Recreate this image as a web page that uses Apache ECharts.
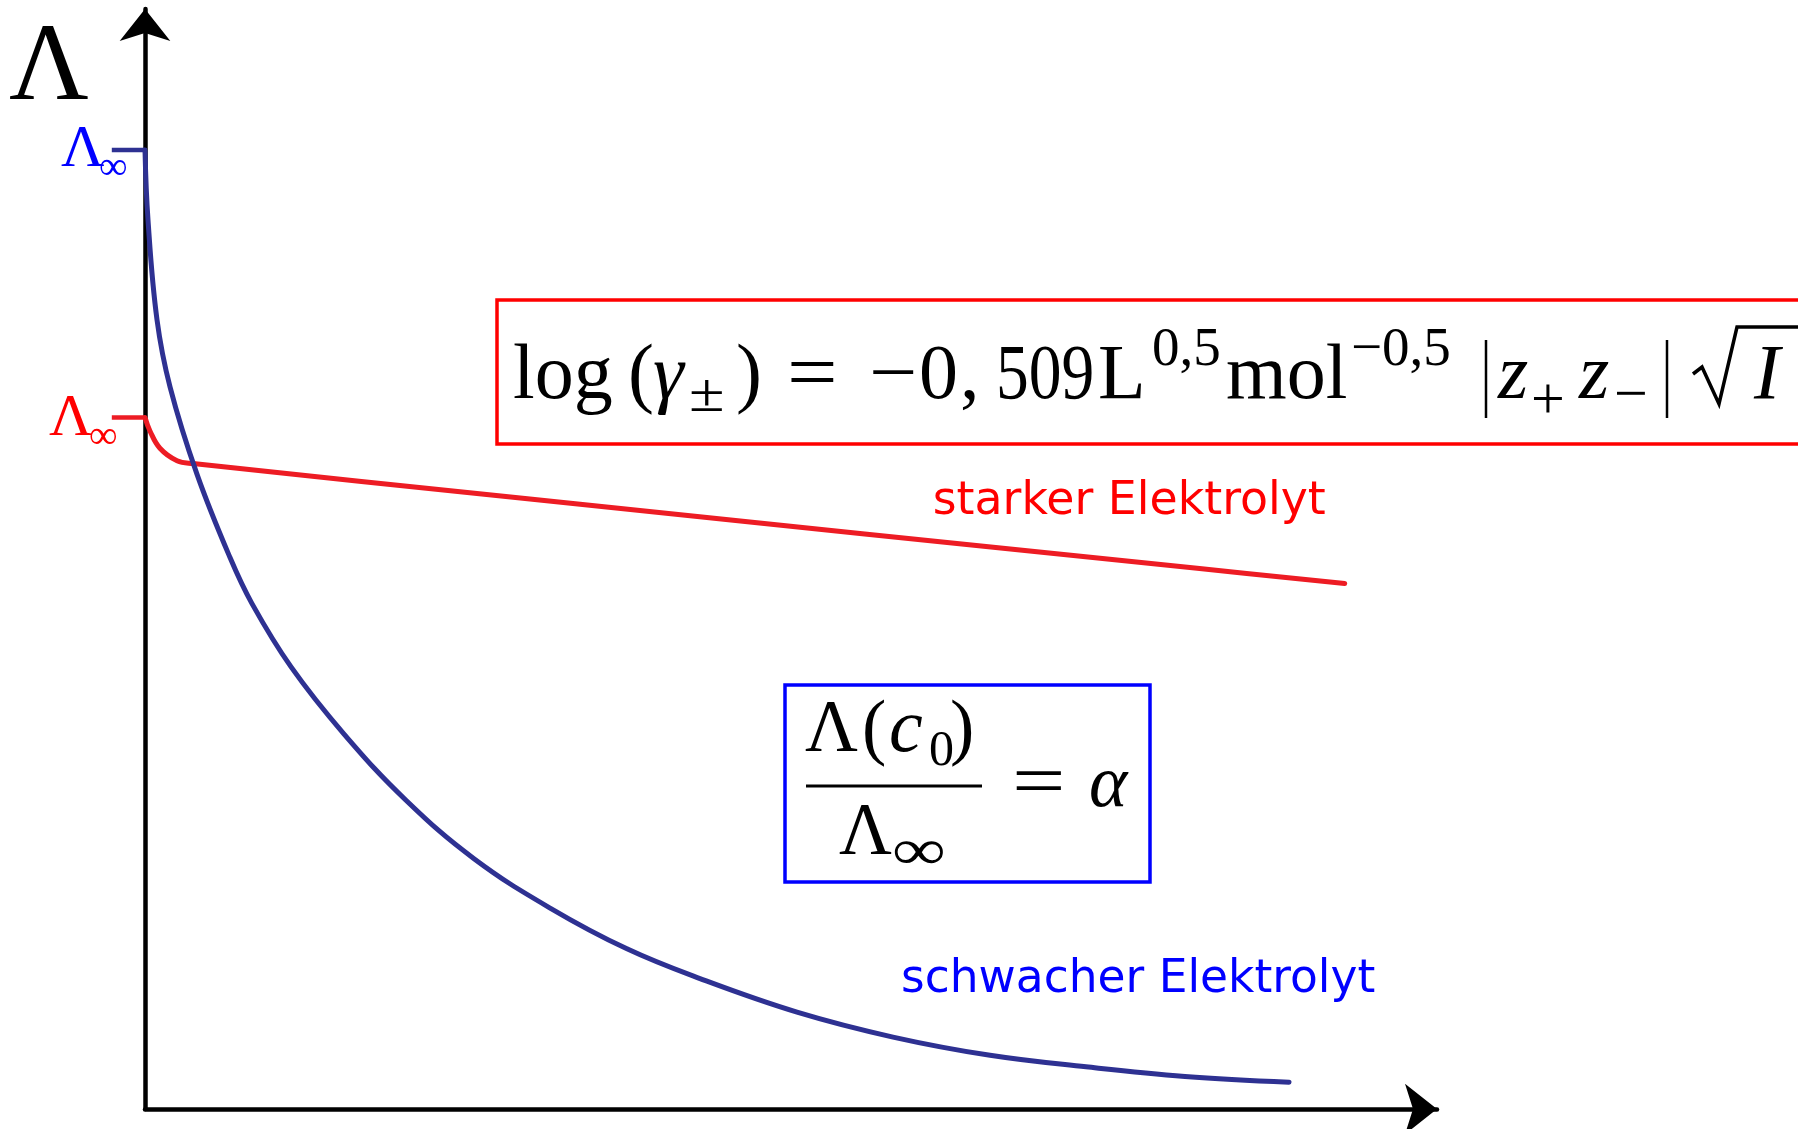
<!DOCTYPE html>
<html>
<head>
<meta charset="utf-8">
<script src="https://cdn.jsdelivr.net/npm/echarts@6/dist/echarts.min.js"></script>
<style>
  html, body { margin: 0; padding: 0; background: #fff; }
  #chart { width: 1798px; height: 1129px; }
</style>
</head>
<body>
<div id="chart"></div>
<script>
// Axis ranges (concentration c, molar conductivity Λ in arbitrary units)
const concRange = [0, 101.2];
const lambdaRange = [0, 114.7];

// Weak electrolyte: Λ falls steeply from Λ∞
const weakConc   = [0, 0.235, 0.94, 1.96, 4.07, 6.66, 8.38, 11.44, 15.59, 20.44, 25.77, 31.80, 37.75, 43.47, 51.07, 58.59, 66.19, 73.71, 81.46, 89.61];
const weakLambda = [100, 92.7, 82.3, 75.3, 66.2, 57.5, 52.7, 46.1, 39.1, 32.2, 26.1, 20.9, 16.7, 13.6, 10.1, 7.5, 5.6, 4.4, 3.4, 2.8];

// Strong electrolyte: short drop, then slow linear decrease
const strongConc   = [0, 0.39, 1.17, 2.51, 3.76, 30.15, 82.6, 93.97];
const strongLambda = [72.1, 70.7, 68.9, 67.6, 67.3, 63.6, 56.35, 54.8];

// Limiting conductivities Λ∞ and the start of their marker dash
const weakLimit = 100;
const strongLimit = 72.1;
const limitDashStart = -2.6;

const curveNames = ['starker Elektrolyt', 'schwacher Elektrolyt'];

const NAVY = '#2e3192';
const CURVE_RED = '#ed1c24';
const BLUE = '#0000ff';
const RED = '#ff0000';
const SERIF = '"Liberation Serif", "DejaVu Serif", serif';
const SANS = '"DejaVu Sans", Verdana, sans-serif';

const zip = (xs, ys) => xs.map((x, i) => [x, ys[i]]);

const chart = echarts.init(document.getElementById('chart'));

const axisCommon = {
  axisLine: {
    show: true,
    onZero: false,
    symbol: ['none', 'arrow'],
    symbolSize: [38, 32],
    lineStyle: { color: '#000', width: 4.5 }
  },
  axisTick: { show: false },
  axisLabel: { show: false },
  splitLine: { show: false }
};

const lineSeries = (name, data, color, smooth) => ({
  name: name,
  type: 'line',
  data: data,
  smooth: smooth,
  showSymbol: false,
  clip: false,
  silent: true,
  lineStyle: { color: color, width: 5, cap: 'round', join: 'round' }
});

chart.setOption({
  animation: false,
  backgroundColor: '#fff',
  grid: { left: 145, right: 361, top: 9, bottom: 20, containLabel: false },
  xAxis: Object.assign({ type: 'value', min: concRange[0], max: concRange[1] }, axisCommon),
  yAxis: Object.assign({ type: 'value', min: lambdaRange[0], max: lambdaRange[1] }, axisCommon),
  series: [
    lineSeries(curveNames[0], zip(strongConc, strongLambda), CURVE_RED, 0.4),
    lineSeries(curveNames[1], zip(weakConc, weakLambda), NAVY, 0.4)
  ]
});

// Text placed by its baseline (canvas 'middle' sits this far above the baseline)
function txt(x, base, str, size, color, opts) {
  opts = opts || {};
  const sans = !!opts.sans;
  const k = sans ? 0.26 : 0.275;
  return {
    type: 'text',
    x: x,
    y: base - k * size,
    scaleX: opts.sx || 1,
    silent: true,
    z: 10,
    style: {
      text: str,
      fill: color,
      fontSize: size,
      fontFamily: sans ? SANS : SERIF,
      fontStyle: opts.italic ? 'italic' : 'normal',
      align: 'left',
      verticalAlign: 'middle'
    }
  };
}
function seg(x1, y1, x2, y2, color, w) {
  return { type: 'line', silent: true, z: 10, shape: { x1: x1, y1: y1, x2: x2, y2: y2 },
           style: { stroke: color, lineWidth: w } };
}

const toPx = (pt) => chart.convertToPixel({ gridIndex: 0 }, pt);
const pWeak = toPx([0, weakLimit]);
const pStrong = toPx([0, strongLimit]);
const pWeakDash = toPx([limitDashStart, weakLimit]);
const pStrongDash = toPx([limitDashStart, strongLimit]);
const pWeakEnd = toPx([weakConc[weakConc.length - 1], weakLambda[weakLambda.length - 1]]);
const pStrongEnd = toPx([strongConc[strongConc.length - 1], strongLambda[strongLambda.length - 1]]);

const K = '#000';
const graphics = [
  // axis title
  txt(9, 100, 'Λ', 110, K),
  // Λ∞ markers on the Λ axis
  seg(pWeakDash[0], pWeakDash[1], pWeak[0], pWeak[1], NAVY, 4.5),
  seg(pStrongDash[0], pStrongDash[1], pStrong[0], pStrong[1], CURVE_RED, 4.5),
  txt(pWeak[0] - 84, pWeak[1] + 17, 'Λ', 60, BLUE),
  txt(pWeak[0] - 46, pWeak[1] + 30, '∞', 40, BLUE),
  txt(pStrong[0] - 96, pStrong[1] + 18, 'Λ', 60, RED),
  txt(pStrong[0] - 56, pStrong[1] + 31, '∞', 40, RED),

  // curve names
  txt(pStrongEnd[0] - 412, pStrongEnd[1] - 69, curveNames[0], 45.8, RED, { sans: true }),
  txt(pWeakEnd[0] - 388, pWeakEnd[1] - 90, curveNames[1], 45.5, BLUE, { sans: true }),

  // Debye–Hückel limiting law box
  { type: 'rect', silent: true, z: 9, shape: { x: 497, y: 300, width: 1400, height: 144 },
    style: { fill: 'none', stroke: RED, lineWidth: 3.5 } },
  txt(513, 399, 'log', 78, K),
  txt(628, 399, '(', 78, K),
  txt(653, 399, 'γ', 78, K, { italic: true }),
  txt(689, 412, '±', 54, K, { sx: 1.2 }),
  txt(736, 399, ')', 78, K),
  txt(787, 399, '=', 78, K, { sx: 1.15 }),
  txt(869, 399, '−', 78, K, { sx: 1.1 }),
  txt(919, 399, '0', 78, K),
  txt(960, 399, ',', 78, K),
  txt(996, 399, '509', 78, K, { sx: 0.84 }),
  txt(1098, 399, 'L', 78, K),
  txt(1152, 366, '0,5', 55, K),
  txt(1226, 399, 'mol', 78, K),
  txt(1351, 366, '−0,5', 55, K),
  seg(1486, 340, 1486, 418, K, 2.5),
  txt(1498, 399, 'z', 78, K, { italic: true }),
  txt(1531, 419, '+', 60, K),
  txt(1579, 399, 'z', 78, K, { italic: true }),
  txt(1614, 414, '−', 60, K),
  seg(1667, 340, 1667, 418, K, 2.5),
  { type: 'polyline', silent: true, z: 10,
    shape: { points: [[1693, 374], [1702, 367], [1719, 404], [1737, 327], [1800, 327]] },
    style: { stroke: K, lineWidth: 3.5, fill: 'none', lineJoin: 'miter' } },
  txt(1754, 399, 'I', 78, K, { italic: true }),

  // degree of dissociation box
  { type: 'rect', silent: true, z: 9, shape: { x: 785, y: 685, width: 365, height: 197 },
    style: { fill: 'none', stroke: BLUE, lineWidth: 3.5 } },
  txt(805, 752, 'Λ', 73, K),
  txt(862, 752, '(', 73, K),
  txt(889, 752, 'c', 76, K, { italic: true }),
  txt(929, 766, '0', 50, K),
  txt(950, 752, ')', 73, K),
  seg(806, 786, 982, 786, K, 3),
  txt(839, 855, 'Λ', 73, K),
  txt(892, 870, '∞', 58, K, { sx: 1.3 }),
  txt(1012, 806, '=', 73, K, { sx: 1.3 }),
  txt(1089, 807, 'α', 73, K, { italic: true })
];

chart.setOption({ graphic: { elements: graphics } });
</script>
</body>
</html>
